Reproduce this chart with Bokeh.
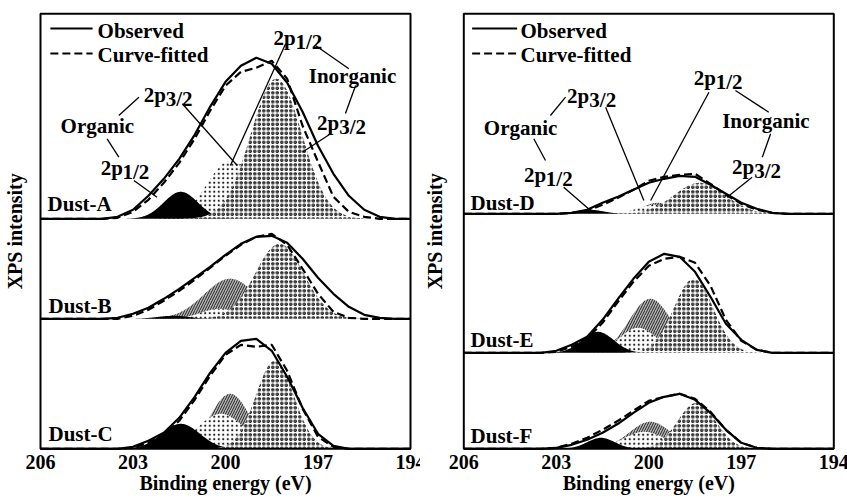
import numpy as np
from bokeh.plotting import figure
from bokeh.layouts import row
from bokeh.models import Range1d
from bokeh.core.properties import value
from bokeh.embed import file_html
from bokeh.resources import INLINE

# ---- data -------------------------------------------------------------
samples = ["Dust-A", "Dust-B", "Dust-C", "Dust-D", "Dust-E", "Dust-F"]
# vertical offset of each spectrum in its stack (a.u.)
offsets = [230, 130, 0, 235, 96, 0]

# binding-energy grid (eV) of the observed and fitted envelopes
energy = [206.0, 205.5, 205.0, 204.5, 204.0, 203.5, 203.0, 202.5, 202.0, 201.5,
          201.0, 200.5, 200.0, 199.5, 199.0, 198.5, 198.0, 197.5, 197.0, 196.5,
          196.0, 195.5, 195.0, 194.5, 194.0]

observed = {
    "Dust-A": [0, 0, 0, 0, 0, 2, 9, 23, 40, 60, 84, 112, 137, 153, 161, 155, 136, 107, 73, 45, 23, 9, 2, 0, 0],
    "Dust-B": [0, 0, 0, 0, 0, 1, 5, 11, 20, 30, 41, 52, 64, 75, 82, 83, 76, 60, 41, 25, 12, 4, 1, 0, 0],
    "Dust-C": [0, 0, 0, 0, 0, 0, 2, 8, 16, 31, 52, 76, 96, 108, 110, 98, 72, 41, 15, 3, 0, 0, 0, 0, 0],
    "Dust-D": [0, 0, 0, 0, 0, 0, 0, 1, 4, 11, 17, 24, 31, 35, 38, 37, 29, 20, 11, 5, 1, 0, 0, 0, 0],
    "Dust-E": [0, 0, 0, 0, 0, 0, 2, 8, 16, 33, 54, 74, 91, 99, 96, 81, 56, 29, 13, 3, 0, 0, 0, 0, 0],
    "Dust-F": [0, 0, 0, 0, 0, 0, 1, 4, 9, 16, 25, 36, 46, 52, 55, 49, 36, 19, 6, 1, 0, 0, 0, 0, 0],
}
fitted = {
    "Dust-A": [0, 0, 0, 0, 0, 1, 7, 19, 36, 56, 80, 108, 133, 147, 151, 158, 140, 93, 57, 22, 7, 2, 0, 0, 0],
    "Dust-B": [0, 0, 0, 0, 0, 0, 3, 9, 18, 28, 39, 51, 63, 74, 82, 85, 74, 50, 25, 7, 1, 0, 0, 0, 0],
    "Dust-C": [0, 0, 0, 0, 0, 0, 1, 6, 14, 28, 49, 73, 94, 104, 102, 104, 78, 40, 12, 2, 0, 0, 0, 0, 0],
    "Dust-D": [0, 0, 0, 0, 0, 0, 0, 1, 3, 9, 16, 24, 33, 37, 39, 40, 30, 19, 10, 4, 1, 0, 0, 0, 0],
    "Dust-E": [0, 0, 0, 0, 0, 0, 1, 6, 14, 30, 51, 71, 87, 94, 96, 90, 67, 33, 12, 3, 0, 0, 0, 0, 0],
    "Dust-F": [0, 0, 0, 0, 0, 0, 1, 5, 11, 19, 28, 38, 48, 52, 55, 50, 37, 19, 6, 1, 0, 0, 0, 0, 0],
}

# fitted S 2p components: peak position (eV), height (a.u.), FWHM (eV)
inorg_32_center = [198.35, 198.25, 198.40, 198.35, 198.55, 198.45]
inorg_32_height = [140, 75, 88, 31, 74, 46]
inorg_32_fwhm = [1.95, 1.85, 1.45, 1.95, 1.50, 1.45]

inorg_12_center = [199.55, 199.85, 199.85, 199.70, 199.95, 199.95]
inorg_12_height = [55, 40, 55, 11, 54, 27]
inorg_12_fwhm = [1.30, 2.00, 1.50, 1.20, 1.60, 1.60]

org_32_center = [199.85, 200.20, 200.15, 199.80, 200.35, 200.15]
org_32_height = [58, 10, 35, 9, 25, 17]
org_32_fwhm = [1.75, 1.40, 1.80, 1.30, 1.40, 1.60]

org_12_center = [201.45, 201.70, 201.45, 201.90, 201.65, 201.55]
org_12_height = [27, 3, 25, 4, 21, 11]
org_12_fwhm = [1.30, 1.20, 1.45, 1.00, 1.20, 1.05]

x_ticks = [206, 203, 200, 197, 194]
x_title = "Binding energy (eV)"
y_title = "XPS intensity"

# ---- styling helpers ---------------------------------------------------
SERIF = value("Liberation Serif")
E_HI, E_LO = 206, 194          # energy span of a panel
I_TOP = 435                    # intensity span of a panel (a.u.)
PX_PER_EV = 370 / (E_HI - E_LO)
xs = np.linspace(E_HI, E_LO, 601)


def component(center, height, fwhm):
    sigma = fwhm / 2.3548
    return height * np.exp(-0.5 * ((xs - center) / sigma) ** 2)


def label(p, items, size="21px", align="left", angle=0.0):
    p.text(x=[i[1] for i in items], y=[i[2] for i in items], text=[i[0] for i in items],
           text_font=SERIF, text_font_style="bold", text_font_size=size,
           text_baseline="middle", text_align=align, angle=angle, text_color="black")


def make_panel(members, width, pad_left, texts, leaders, legend_x):
    # the whole canvas is the plotting area; the boxed region spans 206-194 eV
    pad_right = width - pad_left - 370
    p = figure(width=width, height=501,
               x_range=Range1d(E_HI + pad_left / PX_PER_EV, E_LO - pad_right / PX_PER_EV),
               y_range=Range1d(-52.7, I_TOP + 13.3),
               output_backend="svg", toolbar_location=None,
               x_axis_type=None, y_axis_type=None,
               min_border=0, outline_line_color=None)
    p.grid.visible = False
    p.background_fill_color = "white"

    for i in members:
        base = offsets[i]
        name = samples[i]
        # inorganic 2p1/2 : grey, line hatched
        g = component(inorg_12_center[i], inorg_12_height[i], inorg_12_fwhm[i])
        p.varea(x=xs, y1=base, y2=base + g, fill_color="#b4b4b4",
                hatch_pattern="/", hatch_color="black", hatch_weight=0.8, hatch_scale=5)
        # organic 2p3/2 : light, sparse dots
        g = component(org_32_center[i], org_32_height[i], org_32_fwhm[i])
        p.varea(x=xs, y1=base, y2=base + g, fill_color="white",
                hatch_pattern="dot", hatch_color="#222222", hatch_scale=4.5)
        # organic 2p1/2 : solid black
        g = component(org_12_center[i], org_12_height[i], org_12_fwhm[i])
        p.varea(x=xs, y1=base, y2=base + g, fill_color="black")
        # inorganic 2p3/2 : dense dots
        g = component(inorg_32_center[i], inorg_32_height[i], inorg_32_fwhm[i])
        p.varea(x=xs, y1=base, y2=base + g, fill_color="white",
                hatch_pattern="ring", hatch_color="black", hatch_weight=1.1, hatch_scale=4.5)

        p.line(energy, [base + v for v in fitted[name]], line_color="black",
               line_width=2.2, line_dash="8 4")
        p.line(energy, [base + v for v in observed[name]], line_color="black",
               line_width=2.2)

    # panel box
    p.quad(left=E_HI, right=E_LO, bottom=0, top=I_TOP, fill_color=None,
           line_color="black", line_width=2)

    # energy tick labels and axis titles
    label(p, [(str(t), t, -13.5) for t in x_ticks], size="20px", align="center")
    label(p, [(x_title, (E_HI + E_LO) / 2, -34.0)], size="20px", align="center")
    label(p, [(y_title, E_HI + (pad_left - 14) / PX_PER_EV, I_TOP / 2)], size="20px",
          align="center", angle=np.pi / 2)

    # legend
    x0, x1, tx = legend_x
    p.line([x0, x1], [420.3, 420.3], line_color="black", line_width=2.2)
    p.line([x0, x1], [395.3, 395.3], line_color="black", line_width=2.2, line_dash="8 4")
    label(p, [("Observed", tx, 418.3), ("Curve-fitted", tx, 393.8)])

    # peak assignments with leader lines
    p.segment(x0=[s[0] for s in leaders], y0=[s[1] for s in leaders],
              x1=[s[2] for s in leaders], y1=[s[3] for s in leaders],
              line_color="black", line_width=1.3)
    label(p, texts)
    return p


left_texts = [
    ("2p", 198.44, 411.3), ("1/2", 197.73, 407.3),
    ("Inorganic", 197.30, 373.3),
    ("2p", 197.03, 326.3), ("3/2", 196.31, 322.3),
    ("2p", 202.65, 354.3), ("3/2", 201.94, 350.3),
    ("Organic", 205.35, 323.3),
    ("2p", 204.05, 281.3), ("1/2", 203.34, 277.3),
    ("Dust-A", 205.77, 245.0), ("Dust-B", 205.74, 143.3), ("Dust-C", 205.74, 15.0),
]
left_leaders = [
    (198.05, 405.0, 199.84, 283.3), (197.08, 403.3, 196.00, 380.0),
    (195.78, 363.3, 196.11, 335.3), (196.59, 315.0, 197.51, 296.6),
    (202.81, 351.6, 203.46, 333.3), (201.40, 345.0, 199.62, 283.3),
    (203.84, 310.0, 203.46, 291.6), (202.97, 268.3, 202.22, 251.6),
]
right_texts = [
    ("2p", 198.54, 371.3), ("1/2", 197.83, 367.3),
    ("Inorganic", 197.62, 327.5),
    ("2p", 197.30, 281.6), ("3/2", 196.58, 277.6),
    ("2p", 202.65, 353.3), ("3/2", 201.93, 349.3),
    ("Organic", 205.35, 320.8),
    ("2p", 204.05, 274.3), ("1/2", 203.34, 270.3),
    ("Dust-D", 205.78, 246.3), ("Dust-E", 205.78, 109.0), ("Dust-F", 205.78, 13.3),
]
right_leaders = [
    (198.05, 356.6, 199.94, 248.3), (197.19, 358.3, 196.11, 336.6),
    (196.05, 315.0, 196.32, 291.6), (196.65, 271.6, 197.46, 251.6),
    (202.70, 351.6, 203.19, 333.3), (201.40, 341.6, 200.16, 248.3),
    (203.73, 310.0, 203.35, 288.3), (202.76, 261.6, 201.89, 238.3),
]

p_left = make_panel([0, 1, 2], 420, 40, left_texts, left_leaders,
                    (205.68, 204.31, 204.15))
p_right = make_panel([3, 4, 5], 427, 43.3, right_texts, right_leaders,
                     (205.73, 204.27, 204.16))

layout = row(p_left, p_right)
open("out.html", "w").write(file_html(layout, INLINE))
